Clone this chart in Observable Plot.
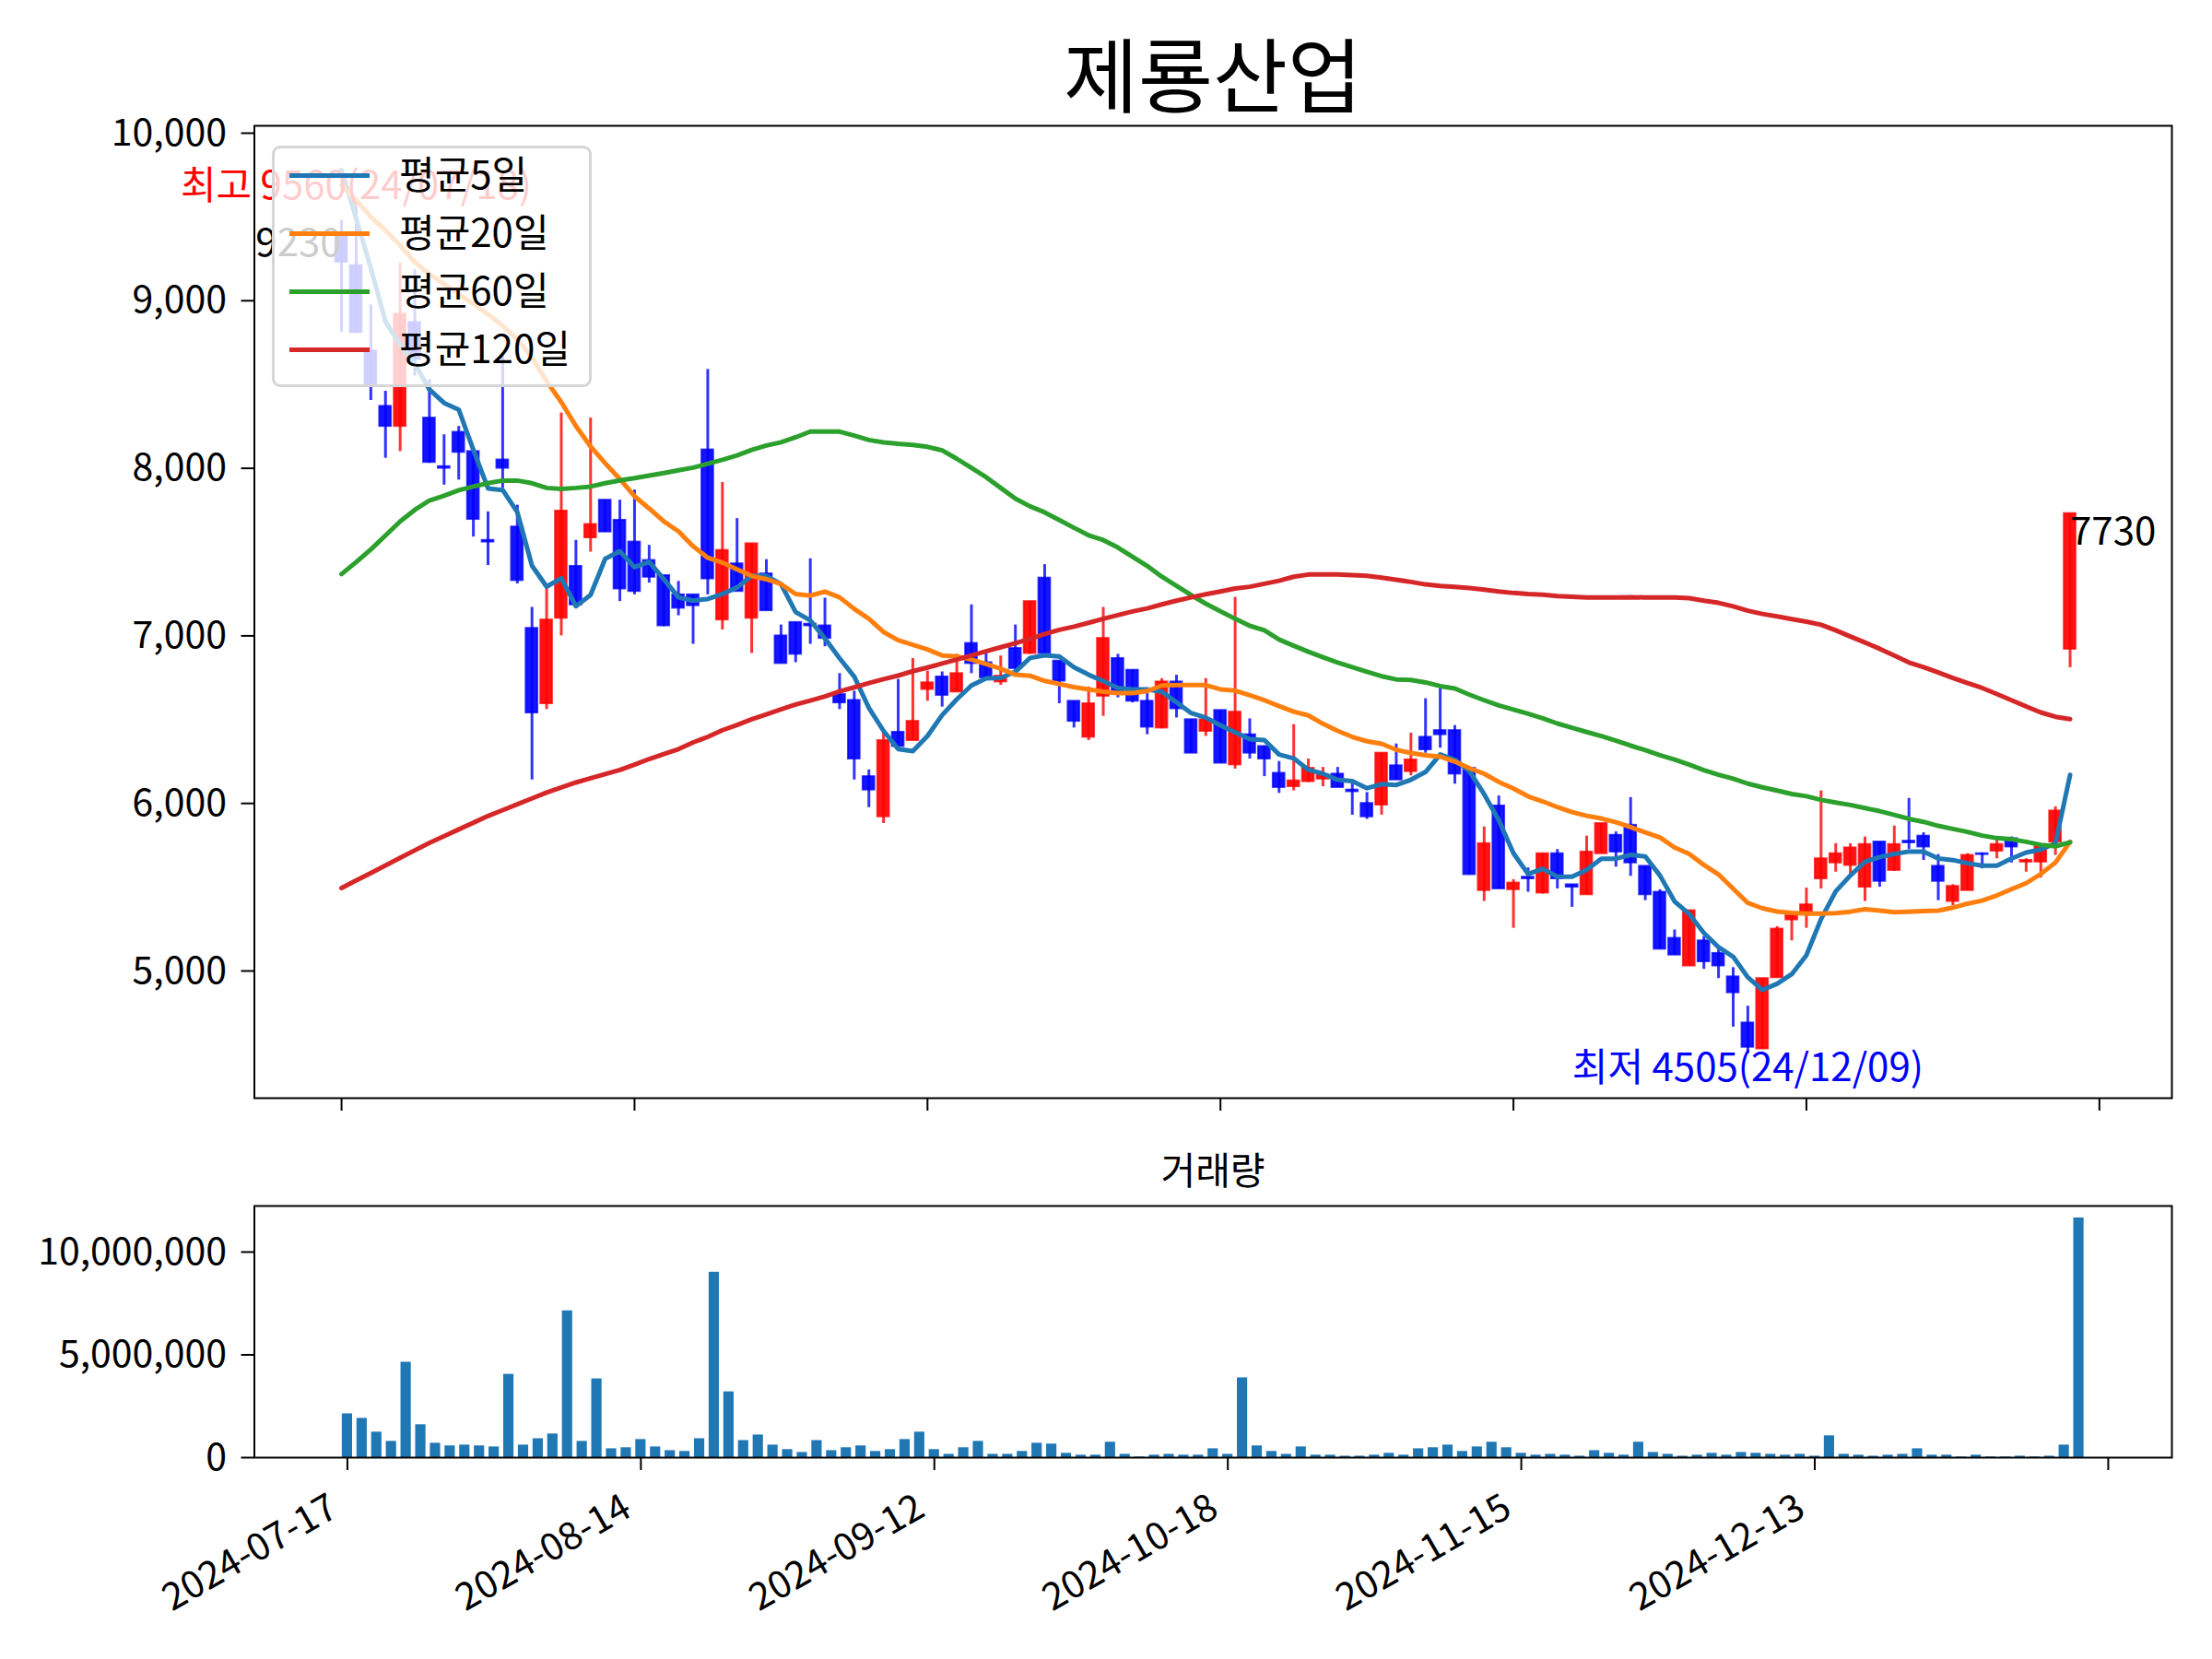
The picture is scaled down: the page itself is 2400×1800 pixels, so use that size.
<!DOCTYPE html>
<html>
<head>
<meta charset="utf-8">
<script src="https://cdn.jsdelivr.net/npm/d3@7"></script>
<script src="https://cdn.jsdelivr.net/npm/@observablehq/plot@0.6"></script>
<style>
  html, body { margin: 0; padding: 0; background: #fff; }
  #root { position: relative; width: 2400px; height: 1800px; background: #fff; font-family: "Noto Sans CJK KR", "Noto Sans", sans-serif; }
  #root svg { position: absolute; left: 0; overflow: visible; }
  .title { position: absolute; left: 1316px; top: 76px; transform: translate(-50%, -50%); font-size: 88px; color: #000; white-space: nowrap; }
  .subtitle { position: absolute; left: 1316px; top: 1267px; transform: translate(-50%, -50%); font-size: 41px; color: #000; white-space: nowrap; }
  .legend { position: absolute; left: 295px; top: 158px; width: 347px; height: 262px; background: rgba(255,255,255,0.8); border: 3px solid #d6d6d6; border-radius: 9px; box-sizing: border-box; }
  .legend .row { position: absolute; left: 0; height: 50px; width: 100%; }
  .legend .swatch { position: absolute; left: 16px; width: 87px; height: 5px; top: 26px; }
  .legend .lab { position: absolute; left: 135px; top: 0; line-height: 50px; font-size: 42px; color: #000; white-space: nowrap; }
</style>
</head>
<body>
<div id="root"></div>
<script>
// ---- data ----
const title = "제룡산업";
const volumeTitle = "거래량";
const tickIndex = [0, 20, 40, 60, 80, 100, 120];
const tickLabels = ["2024-07-17", "2024-08-14", "2024-09-12", "2024-10-18", "2024-11-15", "2024-12-13", ""];

const open = [9400,9210,8700,8370,8250,8870,8300,8010,8215,8100,
  7570,8050,7650,7045,6595,7105,7415,7585,7810,7690,
  7560,7450,7360,7245,7245,8110,7095,7430,7105,7370,
  7000,7080,7070,7060,6650,6615,6160,5920,6425,6375,
  6680,6755,6665,6955,6840,6725,6925,6895,7345,6850,
  6610,6395,6640,6865,6795,6610,6450,6725,6500,6430,
  6555,6230,6410,6340,6180,6100,6130,6145,6175,6080,
  6000,5990,6225,6190,6395,6435,6435,6210,5480,5985,
  5485,5560,5465,5700,5515,5455,5700,5810,5870,5625,
  5470,5195,5030,5180,5105,4965,4690,4535,4960,5305,
  5345,5550,5645,5630,5500,5770,5600,5775,5805,5625,
  5415,5480,5700,5715,5790,5650,5650,5770,6920];
const high = [9480,9560,8975,8460,9225,9185,8530,8200,8250,8115,
  7740,8680,7780,7170,7295,8330,7570,8300,7810,7810,
  7870,7540,7360,7325,7245,8590,7915,7700,7550,7455,
  7065,7080,7460,7225,6775,6670,6200,6425,6740,6865,
  6790,6785,6890,7185,6905,6880,7065,7205,7425,6850,
  6610,6695,7170,6890,6795,6660,6745,6765,6500,6745,
  6555,7230,6505,6340,6250,6470,6265,6215,6215,6135,
  6065,6300,6355,6420,6625,6685,6465,6210,5860,6045,
  5545,5615,5700,5725,5515,5805,5880,5830,6035,5625,
  5485,5245,5360,5205,5140,5020,4790,4955,5265,5345,
  5495,6075,5760,5760,5800,5770,5865,6030,5825,5695,
  5515,5700,5705,5790,5800,5670,5745,5980,7730];
const low = [8810,8810,8405,8060,8100,8550,8030,7900,7930,7590,
  7420,7880,7310,6140,6560,7000,7180,7500,7620,7205,
  7245,7315,7055,7120,6950,7245,7035,7265,6895,7150,
  6835,6840,6950,6935,6560,6140,5975,5880,6340,6375,
  6610,6575,6665,6775,6740,6705,6785,6890,6895,6595,
  6450,6375,6520,6630,6600,6410,6445,6510,6300,6400,
  6240,6205,6265,6160,6060,6075,6125,6100,6095,5930,
  5905,5930,6140,6165,6300,6330,6115,5575,5415,5490,
  5255,5470,5460,5490,5380,5455,5700,5620,5565,5420,
  5130,5095,5030,5010,4955,4665,4505,4535,4960,5180,
  5255,5490,5590,5580,5415,5500,5595,5725,5660,5420,
  5390,5480,5610,5670,5645,5590,5555,5690,6810];
const close = [9230,8810,8500,8250,8920,8650,8035,8000,8095,7695,
  7560,8000,7330,6540,7095,7745,7185,7665,7620,7280,
  7265,7350,7060,7165,7180,7340,7510,7265,7550,7150,
  6835,6890,7060,6985,6600,6265,6080,6375,6340,6490,
  6720,6645,6775,6835,6750,6760,6805,7205,6895,6730,
  6490,6595,6985,6650,6610,6455,6725,6565,6300,6500,
  6240,6545,6300,6265,6095,6135,6210,6170,6095,6070,
  5920,6300,6140,6260,6320,6410,6175,5575,5760,5490,
  5525,5550,5700,5550,5500,5710,5880,5710,5645,5455,
  5130,5095,5360,5055,5030,4870,4545,4955,5250,5330,
  5395,5670,5700,5735,5755,5535,5755,5765,5740,5535,
  5505,5690,5695,5755,5740,5660,5745,5955,7730];
const volume = [2130000,1910000,1240000,790000,4640000,1600000,700000,570000,610000,570000,
  520000,4050000,610000,920000,1150000,7140000,790000,3830000,430000,480000,
  880000,520000,340000,300000,920000,9020000,3200000,830000,1100000,610000,
  390000,250000,830000,340000,480000,570000,300000,390000,880000,1240000,
  390000,160000,480000,790000,160000,160000,300000,700000,660000,210000,
  120000,120000,750000,160000,30000,120000,160000,120000,120000,430000,
  160000,3880000,570000,300000,160000,520000,120000,120000,70000,70000,
  120000,210000,120000,430000,480000,610000,300000,520000,750000,480000,
  210000,120000,160000,120000,70000,340000,210000,120000,750000,250000,
  160000,70000,120000,210000,120000,250000,210000,160000,120000,160000,
  70000,1060000,160000,120000,70000,120000,160000,430000,120000,120000,
  30000,120000,30000,30000,70000,30000,70000,610000,11660000];
const ma5 = [9780,9490,9195,8875,8740,8625,8470,8390,8350,8110,
  7880,7870,7738,7419,7294,7344,7177,7244,7460,7505,
  7410,7442,7338,7230,7210,7220,7250,7289,7358,7358,
  7309,7142,7092,6984,6866,6757,6570,6433,6324,6312,
  6403,6527,6621,6704,6747,6749,6786,6868,6884,6877,
  6813,6768,6730,6689,6680,6680,6667,6603,6539,6512,
  6466,6425,6384,6378,6292,6269,6201,6177,6141,6133,
  6091,6115,6110,6141,6188,6292,6261,6192,6055,5899,
  5703,5578,5610,5563,5563,5604,5670,5670,5693,5684,
  5570,5415,5340,5227,5142,5085,4962,4887,4924,4981,
  5094,5310,5475,5570,5652,5680,5698,5713,5713,5671,
  5662,5643,5629,5629,5671,5707,5725,5762,6170];
const ma20 = [9690,9600,9500,9420,9330,9230,9160,9100,9040,8980,
  8920,8850,8770,8660,8520,8395,8252,8130,8030,7936,
  7833,7760,7683,7624,7535,7466,7437,7397,7358,7338,
  7309,7250,7240,7264,7230,7161,7102,7023,6974,6947,
  6919,6883,6877,6859,6832,6804,6768,6762,6731,6713,
  6694,6680,6667,6658,6658,6671,6704,6707,6707,6706,
  6681,6673,6645,6616,6581,6548,6525,6475,6433,6397,
  6371,6356,6320,6301,6287,6279,6250,6210,6177,6128,
  6089,6042,6012,5978,5948,5926,5910,5888,5859,5827,
  5797,5737,5699,5633,5576,5491,5406,5374,5355,5346,
  5342,5343,5345,5354,5369,5360,5351,5354,5358,5360,
  5378,5402,5420,5451,5488,5524,5579,5647,5771];
const ma60 = [7369,7440,7516,7599,7683,7752,7808,7836,7869,7891,
  7911,7927,7927,7911,7883,7877,7883,7891,7911,7928,
  7941,7957,7972,7988,8004,8027,8051,8077,8110,8136,
  8155,8185,8219,8219,8219,8195,8169,8155,8146,8140,
  8128,8107,8057,8002,7947,7883,7819,7773,7737,7691,
  7645,7600,7572,7527,7472,7417,7353,7298,7243,7192,
  7147,7102,7060,7033,6978,6941,6905,6872,6841,6813,
  6786,6759,6740,6737,6722,6700,6686,6649,6616,6585,
  6560,6535,6508,6477,6451,6426,6402,6375,6345,6318,
  6288,6262,6231,6199,6171,6148,6118,6096,6077,6056,
  6043,6021,6005,5991,5972,5954,5932,5908,5890,5866,
  5848,5830,5808,5793,5786,5771,5753,5744,5768];
const ma120 = [5495,5540,5585,5630,5675,5720,5765,5805,5845,5885,
  5925,5960,5995,6030,6065,6095,6125,6150,6175,6200,
  6232,6265,6295,6324,6364,6397,6437,6468,6502,6531,
  6561,6590,6614,6639,6669,6693,6718,6742,6763,6789,
  6811,6835,6859,6883,6908,6932,6956,6982,7011,7036,
  7055,7078,7102,7124,7146,7164,7188,7210,7230,7248,
  7265,7283,7293,7311,7329,7353,7366,7366,7366,7362,
  7358,7347,7335,7322,7307,7298,7293,7285,7276,7265,
  7256,7250,7246,7238,7233,7229,7229,7229,7231,7229,
  7229,7229,7225,7210,7197,7176,7150,7131,7116,7100,
  7085,7066,7033,6996,6960,6923,6883,6841,6813,6781,
  6749,6718,6689,6653,6616,6579,6543,6517,6503];

const maNames = ["평균5일", "평균20일", "평균60일", "평균120일"];
const maColors = ["#1f77b4", "#ff7f0e", "#2ca02c", "#d62728"];
const maSeries = [ma5, ma20, ma60, ma120];

const highNote = {index: 1, value: 9560, text: "최고 9560(24/07/18)"};
const lowNote = {index: 96, value: 4505, text: "최저 4505(24/12/09)"};
const firstNote = {index: 0, value: 9230, text: "9230"};
const lastNote = {index: 118, value: 7730, text: "7730"};

// ---- drawing ----
const FONT = '"Noto Sans CJK KR", "Noto Sans", sans-serif';
const UP = "#ff0000", DOWN = "#0000ff";
const idx = d3.range(close.length);
const candleColor = i => close[i] >= open[i] ? UP : DOWN;

const root = document.getElementById("root");

const mainPlot = Plot.plot({
  width: 2400, height: 1240,
  marginTop: 136, marginBottom: 49, marginLeft: 275.5, marginRight: 44,
  style: {fontFamily: FONT, fontSize: "41px", background: "transparent", color: "#000"},
  x: {domain: [-5.95, 124.95]},
  y: {domain: [4241, 10044]},
  color: {type: "identity"},
  marks: [
    Plot.ruleX(idx, {x: i => i, y1: i => low[i], y2: i => high[i], stroke: candleColor, strokeWidth: 3, strokeOpacity: 0.8}),
    Plot.rect(idx, {x1: i => i - 0.4, x2: i => i + 0.4, y1: i => open[i], y2: i => close[i], fill: candleColor, fillOpacity: 0.92, stroke: candleColor, strokeOpacity: 0.75, strokeWidth: 2}),
    ...maSeries.map((s, k) => Plot.lineY(s, {x: (d, i) => i, y: d => d, stroke: maColors[k], strokeWidth: 5})),
    Plot.text([highNote], {x: "index", y: "value", text: "text", fill: "#ff0000", textAnchor: "middle", lineAnchor: "bottom", dy: -8, fontSize: 42}),
    Plot.text([lowNote], {x: "index", y: "value", text: "text", fill: "#0000ff", textAnchor: "middle", lineAnchor: "top", fontSize: 42}),
    Plot.text([firstNote], {x: "index", y: "value", text: "text", fill: "#000", textAnchor: "end", lineAnchor: "bottom", dy: -6, fontSize: 42}),
    Plot.text([lastNote], {x: "index", y: "value", text: "text", fill: "#000", textAnchor: "start", lineAnchor: "top", dy: 4, fontSize: 42}),
    Plot.frame({stroke: "#000", strokeWidth: 2}),
    Plot.axisY({ticks: [5000, 6000, 7000, 8000, 9000, 10000], tickFormat: d3.format(","), tickSize: 14, tickPadding: 16, strokeWidth: 2, fontSize: 41, label: null}),
    Plot.axisX({ticks: tickIndex, tickFormat: () => "", tickSize: 14, strokeWidth: 2, label: null})
  ]
});
mainPlot.style.top = "0px";
root.appendChild(mainPlot);

const volPlot = Plot.plot({
  width: 2400, height: 570,
  marginTop: 78, marginBottom: 219, marginLeft: 275.5, marginRight: 44,
  style: {fontFamily: FONT, fontSize: "41px", background: "transparent", color: "#000"},
  x: {domain: [-6.34, 124.34]},
  y: {domain: [0, 12240000]},
  marks: [
    Plot.rect(idx, {x1: i => i - 0.35, x2: i => i + 0.35, y1: 0, y2: i => volume[i], fill: "#1f77b4"}),
    Plot.frame({stroke: "#000", strokeWidth: 2}),
    Plot.axisY({ticks: [0, 5000000, 10000000], tickFormat: d3.format(","), tickSize: 14, tickPadding: 16, strokeWidth: 2, fontSize: 41, label: null}),
    Plot.axisX({ticks: tickIndex, tickFormat: () => "", tickSize: 14, strokeWidth: 2, label: null}),
    Plot.text(tickIndex, {x: d => d, frameAnchor: "bottom", text: (d, i) => tickLabels[i], rotate: -30, textAnchor: "end", lineAnchor: "bottom", dx: -8, dy: 62, fontSize: 41, fill: "#000"})
  ]
});
volPlot.style.top = "1230px";
root.appendChild(volPlot);

// title, subplot title and legend
const t = document.createElement("div");
t.className = "title"; t.textContent = title; root.appendChild(t);
const st = document.createElement("div");
st.className = "subtitle"; st.textContent = volumeTitle; root.appendChild(st);

const lg = document.createElement("div");
lg.className = "legend";
maNames.forEach((name, k) => {
  const row = document.createElement("div");
  row.className = "row";
  row.style.top = (1 + k * 63) + "px";
  const sw = document.createElement("div");
  sw.className = "swatch"; sw.style.background = maColors[k];
  const lab = document.createElement("div");
  lab.className = "lab"; lab.textContent = name;
  row.appendChild(sw); row.appendChild(lab);
  lg.appendChild(row);
});
root.appendChild(lg);
</script>
</body>
</html>
